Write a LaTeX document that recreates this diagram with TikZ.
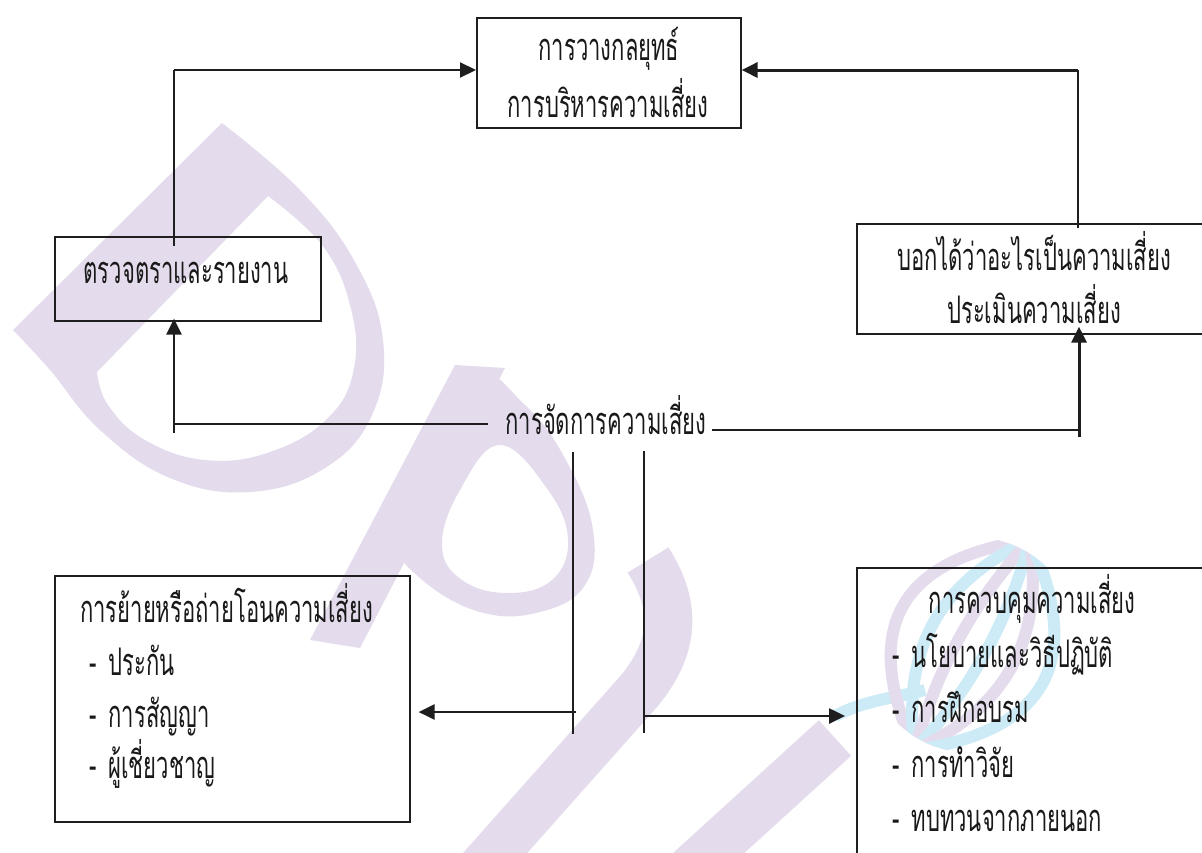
\documentclass[tikz,border=0pt]{standalone}
\usepackage{fontspec}
\newfontfamily\thaifont[Script=Thai,FakeStretch=0.58]{Loma}
\usetikzlibrary{arrows.meta}
\definecolor{wmpurple}{RGB}{228,220,237}
\definecolor{wmcyan}{RGB}{205,235,246}
\definecolor{ink}{RGB}{30,30,30}
\begin{document}
\begin{tikzpicture}[x=1pt,y=-1pt,
  box/.style={draw=ink, line width=1.6pt, anchor=north west, inner sep=0pt},
  lbl/.style={font=\thaifont\fontsize{38}{38}\selectfont, inner sep=0pt, anchor=base, text={rgb,255:red,25;green,25;blue,25}},
  lblw/.style={lbl, anchor=base west},
  thinln/.style={draw=ink, line width=1.3pt},
  arr/.style={draw=ink, line width=2.6pt, -{Triangle[length=16pt,width=15pt]}},
]
\useasboundingbox (0,0) rectangle (1202,852);
\clip (0,0) rectangle (1202,852);
\fill[white] (0,0) rectangle (1202,852);

% ---- watermark (D P U and ribbon logo) ----
\fill[wmpurple, even odd rule]
  (13,330) -- plot[smooth, tension=0.7] coordinates {(222,123) (300,190) (355,262) (383,340) (372,415) (325,468) (250,492) (170,478) (100,430) (50,370) (13,330)} -- cycle
  (97,372) -- plot[smooth, tension=0.7] coordinates {(268,196) (322,245) (350,305) (354,368) (328,418) (270,452) (205,460) (145,440) (108,405) (97,372)} -- cycle;
\fill[wmpurple] (455,365) -- (505,368) -- (360,648) -- (310,640) -- cycle;
\fill[wmpurple, even odd rule]
  plot[smooth cycle, tension=0.7] coordinates {(470,372) (525,405) (567,462) (593,530) (585,585) (540,612) (480,612) (420,578) (400,540) (430,470)}
  plot[smooth cycle, tension=0.7] coordinates {(500,445) (548,490) (568,540) (552,580) (508,593) (462,580) (442,545) (460,490)};
\draw[wmpurple, line width=48pt] (480,870) -- (640,690) .. controls (672,650) and (680,610) .. (648,560);
\draw[wmpurple, line width=48pt] (690,870) -- (835,738);
\draw[wmcyan, line width=12pt] (835,716) .. controls (865,700) and (895,698) .. (925,690);
\begin{scope}
  \clip (972,645) circle[radius=108];
  \foreach \b/\c in {-80/wmpurple,-45/wmcyan,-15/wmpurple,15/wmcyan,45/wmpurple,80/wmcyan} {
    \draw[\c, line width=12pt] (915,750) .. controls ({953.3+1.167*\b},{680+0.638*\b}) and ({991.7+1.167*\b},{610+0.638*\b}) .. (1030,540);
  }
\end{scope}

% ---- boxes ----
\node[box, minimum width=264pt, minimum height=110pt] (strat) at (476,17) {};
\node[box, minimum width=266pt, minimum height=84pt] (monitor) at (54,236) {};
\node[box, minimum width=400pt, minimum height=110pt] (ident) at (856,223) {};
\node[box, minimum width=355pt, minimum height=246pt] (transfer) at (54,575) {};
\node[box, minimum width=400pt, minimum height=350pt] (control) at (856,567) {};

% ---- texts ----
\node[lbl] (s1) at (609,60) {การวางกลยุทธ์};
\node[lbl] (s2) at (608,117) {การบริหารความเสี่ยง};
\node[lbl] (m1) at (186,283) {ตรวจตราและรายงาน};
\node[lbl] (i1) at (1034,270) {บอกได้ว่าอะไรเป็นความเสี่ยง};
\node[lbl] (i2) at (1034,323) {ประเมินความเสี่ยง};
\node[lbl] (mg) at (606,434) {การจัดการความเสี่ยง};
\node[lblw] (t0) at (80,622) {การย้ายหรือถ่ายโอนความเสี่ยง};
\node[lblw] (t1) at (89,675) {-\hspace{12pt}ประกัน};
\node[lblw] (t2) at (89,727) {-\hspace{12pt}การสัญญา};
\node[lblw] (t3) at (89,778) {-\hspace{12pt}ผู้เชี่ยวชาญ};
\node[lbl] (c0) at (1032,613) {การควบคุมความเสี่ยง};
\node[lblw] (c1) at (892,667) {-\hspace{12pt}นโยบายและวิธีปฏิบัติ};
\node[lblw] (c2) at (892,722) {-\hspace{12pt}การฝึกอบรม};
\node[lblw] (c3) at (892,777) {-\hspace{12pt}การทำวิจัย};
\node[lblw] (c4) at (892,831) {-\hspace{12pt}ทบทวนจากภายนอก};

% ---- connectors ----
\coordinate (jl) at (174,70);
\coordinate (mtop) at (174,246);
\coordinate (jr) at (1078,70);
\coordinate (itop) at (1078,228);
\draw[thinln] (mtop) -- (jl);
\draw[arr, line width=2.2pt] (jl) -- (jl -| strat.west);
\draw[thinln] (itop) -- (jr);
\draw[arr, line width=3pt] (jr) -- (jr -| strat.east);

\coordinate (bl) at (174,433);
\coordinate (br) at (1079,437);
\coordinate (hl) at (488,424);
\coordinate (hr0) at (712,430);
\coordinate (hr) at (1079,430);
\draw[arr] (bl) -- ([yshift=3pt]bl |- monitor.south);
\draw[thinln] (bl |- hl) -- (hl);
\draw[thinln] (hr0) -- (hr);
\draw[arr, line width=3pt] (br) -- ([yshift=8pt]br |- ident.south);

\coordinate (v1t) at (573,452);
\coordinate (v1b) at (573,734);
\coordinate (v2t) at (644,451);
\coordinate (v2b) at (644,733);
\draw[thinln] (v1t) -- (v1b);
\draw[thinln] (v2t) -- (v2b);
\coordinate (a1) at (576,712);
\coordinate (a2) at (644,716);
\draw[arr] (a1) -- ([xshift=8pt]a1 -| transfer.east);
\draw[arr] (a2) -- ([xshift=-11pt]a2 -| control.west);
\end{tikzpicture}
\end{document}
